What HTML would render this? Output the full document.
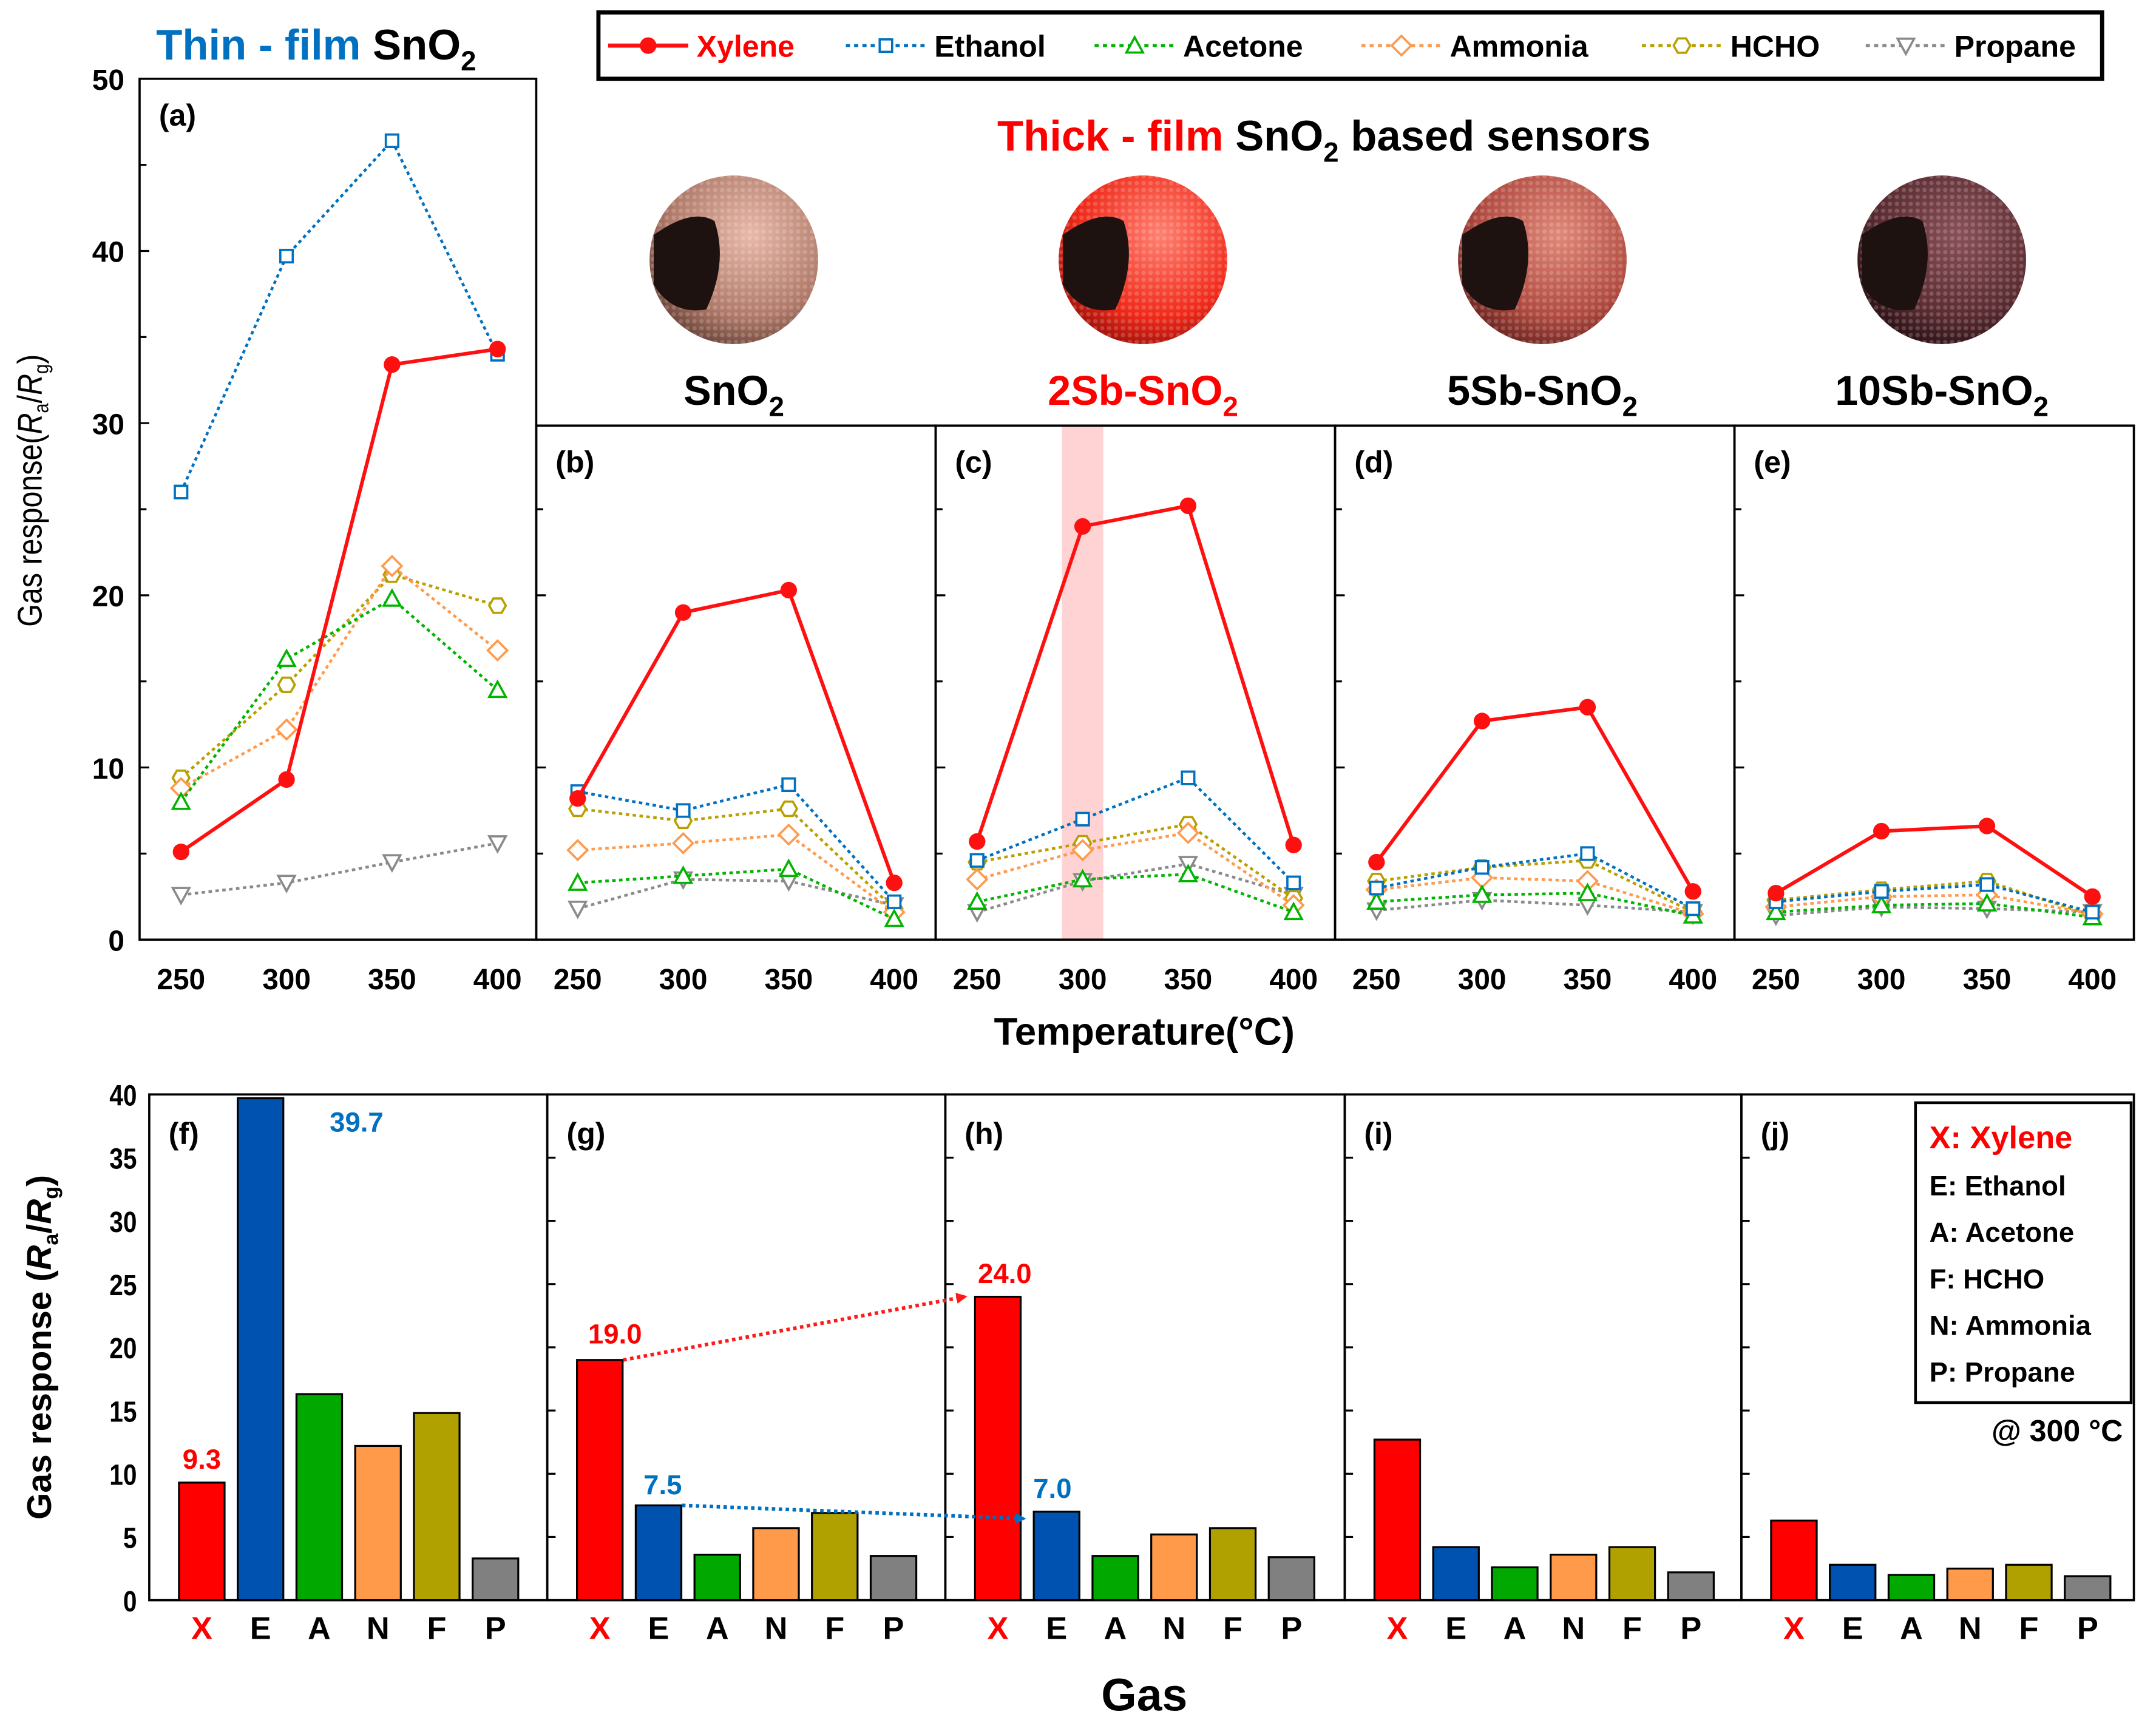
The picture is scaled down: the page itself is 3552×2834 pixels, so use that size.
<!DOCTYPE html>
<html><head><meta charset="utf-8">
<style>
html,body{margin:0;padding:0;background:#fff;}
svg{display:block;font-family:"Liberation Sans",Arial,sans-serif;}
</style></head>
<body>
<svg id="fig" width="3552" height="2834" viewBox="0 0 1560 1244.7" preserveAspectRatio="none" xmlns="http://www.w3.org/2000/svg">
<defs>
<radialGradient id="g1" cx="0.6" cy="0.35" r="0.7"><stop offset="0" stop-color="#e8b8a8"/><stop offset="0.7" stop-color="#b07a6a"/><stop offset="1" stop-color="#6a4438"/></radialGradient>
<radialGradient id="g2" cx="0.6" cy="0.35" r="0.7"><stop offset="0" stop-color="#ff8070"/><stop offset="0.7" stop-color="#f02a1a"/><stop offset="1" stop-color="#a01008"/></radialGradient>
<radialGradient id="g3" cx="0.6" cy="0.35" r="0.7"><stop offset="0" stop-color="#e08878"/><stop offset="0.7" stop-color="#b04a40"/><stop offset="1" stop-color="#6a2420"/></radialGradient>
<radialGradient id="g4" cx="0.6" cy="0.35" r="0.7"><stop offset="0" stop-color="#8a5058"/><stop offset="0.7" stop-color="#5a2c32"/><stop offset="1" stop-color="#2a1014"/></radialGradient>
<pattern id="dots" width="5" height="5" patternUnits="userSpaceOnUse"><circle cx="2.5" cy="2.5" r="1.6" fill="#fff" opacity="0.18"/></pattern>
<marker id="arR" markerWidth="8" markerHeight="8" refX="6" refY="4" orient="auto" markerUnits="userSpaceOnUse"><path d="M0,0 L8,4 L0,8 Z" fill="#ff1a1a"/></marker>
<marker id="arB" markerWidth="8" markerHeight="8" refX="6" refY="4" orient="auto" markerUnits="userSpaceOnUse"><path d="M0,0 L8,4 L0,8 Z" fill="#0070c0"/></marker>
</defs>
<g id="root"></g>
</svg>
<script>
// ---- data ----
const temps = [250, 300, 350, 400];
const gasNames = ["Xylene", "Ethanol", "Acetone", "Ammonia", "HCHO", "Propane"];
const panelLabels = ["(a)", "(b)", "(c)", "(d)", "(e)"];
const xyleneA = [5.1, 9.3, 33.4, 34.3];
const ethanolA = [26, 39.7, 46.4, 34];
const acetoneA = [8, 16.3, 19.8, 14.5];
const ammoniaA = [8.8, 12.2, 21.7, 16.8];
const hchoA = [9.4, 14.8, 21.2, 19.4];
const propaneA = [2.6, 3.3, 4.5, 5.6];
const xyleneB = [8.2, 19, 20.3, 3.3];
const ethanolB = [8.6, 7.5, 9, 2.2];
const acetoneB = [3.3, 3.7, 4.1, 1.2];
const ammoniaB = [5.2, 5.6, 6.1, 1.6];
const hchoB = [7.6, 6.9, 7.6, 1.8];
const propaneB = [1.8, 3.5, 3.4, 2];
const xyleneC = [5.7, 24, 25.2, 5.5];
const ethanolC = [4.6, 7, 9.4, 3.3];
const acetoneC = [2.2, 3.5, 3.8, 1.6];
const ammoniaC = [3.5, 5.2, 6.2, 2];
const hchoC = [4.5, 5.6, 6.7, 2.4];
const propaneC = [1.6, 3.4, 4.4, 2.6];
const xyleneD = [4.5, 12.7, 13.5, 2.8];
const ethanolD = [3, 4.2, 5, 1.8];
const acetoneD = [2.2, 2.6, 2.7, 1.4];
const ammoniaD = [2.9, 3.6, 3.4, 1.5];
const hchoD = [3.4, 4.2, 4.6, 1.6];
const propaneD = [1.7, 2.3, 2, 1.6];
const xyleneE = [2.7, 6.3, 6.6, 2.5];
const ethanolE = [2.2, 2.8, 3.2, 1.6];
const acetoneE = [1.6, 2, 2.1, 1.3];
const ammoniaE = [1.9, 2.5, 2.6, 1.5];
const hchoE = [2.3, 2.9, 3.4, 1.4];
const propaneE = [1.4, 1.9, 1.8, 1.6];
const yTicksTop = [0, 10, 20, 30, 40, 50];
const gasCats = ["X", "E", "A", "N", "F", "P"];
const barF = [9.3, 39.7, 16.3, 12.2, 14.8, 3.3];
const barG = [19, 7.5, 3.6, 5.7, 6.9, 3.5];
const barH = [24, 7, 3.5, 5.2, 5.7, 3.4];
const barI = [12.7, 4.2, 2.6, 3.6, 4.2, 2.2];
const barJ = [6.3, 2.8, 2, 2.5, 2.8, 1.9];
const barPanelLabels = ["(f)", "(g)", "(h)", "(i)", "(j)"];
const yTicksBottom = [0, 5, 10, 15, 20, 25, 30, 35, 40];

const NS = "http://www.w3.org/2000/svg";
const root = document.getElementById("root");
function el(tag, attrs, parent, txt) {
  const e = document.createElementNS(NS, tag);
  for (const k in attrs) e.setAttribute(k, attrs[k]);
  if (txt !== undefined) e.textContent = txt;
  (parent || root).appendChild(e);
  return e;
}
const lineColors = ["#ff1010", "#0070c0", "#00b400", "#ff9a4d", "#b8a000", "#8a8a8a"];
const barColors = ["#ff0000", "#0052b0", "#00a800", "#ff9a4a", "#b0a000", "#808080"];

// ---- top axes ----
const topY0 = 680, topPer = 12.46;
function yTop(v) { return topY0 - v * topPer; }
const panelX = [101, 388, 677, 966, 1255, 1544];
function xT(p, t) { return panelX[p] + 30 + (t - 250) / 150 * 229; }

function marker(g, i, x, y) {
  const c = lineColors[i];
  let m;
  if (i === 0) m = el("circle", { cx: x, cy: y, r: 6, fill: "#ff1010" }, g);
  else if (i === 1) m = el("rect", { x: x - 4.5, y: y - 4.5, width: 9, height: 9, fill: "#fff", stroke: c, "stroke-width": 1.6 }, g);
  else if (i === 2) m = el("polygon", { points: `${x},${y - 6} ${x + 6},${y + 5} ${x - 6},${y + 5}`, fill: "#fff", stroke: c, "stroke-width": 1.6 }, g);
  else if (i === 3) m = el("polygon", { points: `${x},${y - 7} ${x + 7},${y} ${x},${y + 7} ${x - 7},${y}`, fill: "#fff", stroke: c, "stroke-width": 1.6 }, g);
  else if (i === 4) { let p = []; for (let k = 0; k < 6; k++) { const a = Math.PI / 3 * k; p.push((x + 6 * Math.cos(a)) + "," + (y + 6 * Math.sin(a))); } m = el("polygon", { points: p.join(" "), fill: "#fff", stroke: c, "stroke-width": 1.6 }, g); }
  else m = el("polygon", { points: `${x - 6},${y - 5} ${x + 6},${y - 5} ${x},${y + 6}`, fill: "#fff", stroke: c, "stroke-width": 1.6 }, g);
  
  
}

const panelSeries = [
  [xyleneA, ethanolA, acetoneA, ammoniaA, hchoA, propaneA],
  [xyleneB, ethanolB, acetoneB, ammoniaB, hchoB, propaneB],
  [xyleneC, ethanolC, acetoneC, ammoniaC, hchoC, propaneC],
  [xyleneD, ethanolD, acetoneD, ammoniaD, hchoD, propaneD],
  [xyleneE, ethanolE, acetoneE, ammoniaE, hchoE, propaneE]
];

// highlight in c
const hl = el("rect", { x: xT(2, 300) - 15, y: 308, width: 30, height: 372, fill: "#ffc8c8", opacity: 0.8 });



for (let p = 0; p < 5; p++) {
  const g = el("g", {});
  
  
  const top = p === 0 ? 57 : 308;
  const fr = el("rect", { x: panelX[p], y: top, width: panelX[p + 1] - panelX[p], height: topY0 - top, fill: "none", stroke: "#000", "stroke-width": 1.6 }, g);
  
  
  // y ticks
  for (let v = 5; v < 50; v += 5) {
    const y = yTop(v);
    if (y < top + 2) continue;
    el("line", { x1: panelX[p], x2: panelX[p] + (v % 10 === 0 ? 7 : 5), y1: y, y2: y, stroke: "#000", "stroke-width": 1.4 }, g);
  }
  // x labels
  temps.forEach(t => {
    const tl = el("text", { x: xT(p, t), y: 716, "font-size": 21, "font-weight": "bold", "text-anchor": "middle" }, g, String(t));
    
    
  });
  const pl = el("text", { x: panelX[p] + 14, y: top + 34, "font-size": 22, "font-weight": "bold" }, g, panelLabels[p]);
  
  
  // series (draw in reverse so xylene is on top)
  for (let i = 5; i >= 0; i--) {
    const s = panelSeries[p][i];
    const pts = s.map((v, k) => xT(p, temps[k]) + "," + yTop(v)).join(" ");
    const ln = el("polyline", { points: pts, fill: "none", stroke: lineColors[i], "stroke-width": i === 0 ? 2.6 : 2, "stroke-dasharray": i === 0 ? "none" : "2.5,2.5" }, g);
    
    
    s.forEach((v, k) => marker(g, i, xT(p, temps[k]), yTop(v)));
  }
}
yTicksTop.forEach(v => {
  const t = el("text", { x: 90, y: yTop(v) + 8, "font-size": 21, "font-weight": "bold", "text-anchor": "end" }, root, String(v));
  
  
});
const yt1 = el("text", { transform: "translate(30,355) rotate(-90) scale(0.85,1)", "font-size": 25, "text-anchor": "middle" });
yt1.innerHTML = 'Gas response(<tspan font-style="italic">R</tspan><tspan font-size="15" dy="5">a</tspan><tspan dy="-5">/</tspan><tspan font-style="italic">R</tspan><tspan font-size="15" dy="5">g</tspan><tspan dy="-5">)</tspan>';


const xt = el("text", { x: 828, y: 756, "font-size": 28, "font-weight": "bold", "text-anchor": "middle" }, root, "Temperature(°C)");



// titles
const t1 = el("text", { x: 113, y: 43, "font-size": 31, "font-weight": "bold" });
t1.innerHTML = '<tspan fill="#0070c0">Thin - film</tspan> SnO<tspan font-size="20" dy="8">2</tspan>';


const t2 = el("text", { x: 958, y: 109, "font-size": 31, "font-weight": "bold", "text-anchor": "middle" });
t2.innerHTML = '<tspan fill="#ff0000">Thick - film</tspan> SnO<tspan font-size="20" dy="8">2</tspan><tspan dy="-8"> based sensors</tspan>';



// legend
const lg = el("g", {});


el("rect", { x: 433, y: 9, width: 1088, height: 48, fill: "#fff", stroke: "#000", "stroke-width": 3 }, lg);
const legX = [440, 612, 792, 985, 1188, 1350];
gasNames.forEach((n, i) => {
  const x = legX[i];
  el("line", { x1: x, x2: x + 58, y1: 33, y2: 33, stroke: lineColors[i], "stroke-width": i === 0 ? 3 : 2.2, "stroke-dasharray": i === 0 ? "none" : "3,3" }, lg);
  marker(lg, i, x + 29, 33);
  const lt = el("text", { x: x + 64, y: 41, "font-size": 22, "font-weight": "bold", fill: i === 0 ? "#ff0000" : "#000" }, lg, n);
  
  
});

// spheres
const sph = [[531, "g1", "SnO", "#000", "-"], [827, "g2", "2Sb-SnO", "#ff0000", "2sb"], [1116, "g3", "5Sb-SnO", "#000", "5sb"], [1405, "g4", "10Sb-SnO", "#000", "10sb"]];
sph.forEach(s => {
  const g = el("g", {});
  
  
  el("circle", { cx: s[0], cy: 188, r: 61, fill: "url(#" + s[1] + ")" }, g);
  el("circle", { cx: s[0], cy: 188, r: 61, fill: "url(#dots)" }, g);
  el("path", { d: `M${s[0] - 58},${170} Q${s[0] - 30},${150} ${s[0] - 14},${160} Q${s[0] - 4},${190} ${s[0] - 20},${224} Q${s[0] - 45},${228} ${s[0] - 58},${206} Z`, fill: "#1e1210" }, g);
  const lab = el("text", { x: s[0], y: 293, "font-size": 30, "font-weight": "bold", "text-anchor": "middle", fill: s[3] }, g);
  lab.innerHTML = s[2] + '<tspan font-size="20" dy="8">2</tspan>';
});

// ---- bottom bar charts ----
const bY0 = 1158, bPer = (1158 - 792) / 40;
function yB(v) { return bY0 - v * bPer; }
const bX = [108, 396, 684, 973, 1260, 1544];
function xB(p, i) { return bX[p] + 38 + i * 42.5; }
const barSets = [barF, barG, barH, barI, barJ];
for (let p = 0; p < 5; p++) {
  const g = el("g", {});
  
  
  el("rect", { x: bX[p], y: 792, width: bX[p + 1] - bX[p], height: bY0 - 792, fill: "none", stroke: "#000", "stroke-width": 1.6 }, g);
  if (p > 0) yTicksBottom.forEach(v => { if (v > 0 && v < 40) el("line", { x1: bX[p], x2: bX[p] + 6, y1: yB(v), y2: yB(v), stroke: "#000", "stroke-width": 1.4 }, g); });
  barSets[p].forEach((v, i) => {
    const b = el("rect", { x: xB(p, i) - 16.5, y: yB(v), width: 33, height: v * bPer, fill: barColors[i], stroke: "#000", "stroke-width": 1.4 }, g);
    
    
  });
  gasCats.forEach((c, i) => {
    const cl = el("text", { x: xB(p, i), y: 1186, "font-size": 23, "font-weight": "bold", "text-anchor": "middle", fill: i === 0 ? "#ff0000" : "#000" }, g, c);
    
    
  });
  const pl = el("text", { x: bX[p] + 14, y: 828, "font-size": 22, "font-weight": "bold" }, g, barPanelLabels[p]);
  
  
}
yTicksBottom.forEach(v => {
  const t = el("text", { x: 99, y: yB(v) + 8, "font-size": 21, "font-weight": "bold", "text-anchor": "end", transform: `translate(${99 * 0.15},0) scale(0.85,1)` }, root, String(v));
  
  
});
const yt2 = el("text", { transform: "translate(37,975) rotate(-90)", "font-size": 25, "font-weight": "bold", "text-anchor": "middle" });
yt2.innerHTML = 'Gas response (<tspan font-style="italic">R</tspan><tspan font-size="15" dy="5">a</tspan><tspan dy="-5">/</tspan><tspan font-style="italic">R</tspan><tspan font-size="15" dy="5">g</tspan><tspan dy="-5">)</tspan>';


const gx = el("text", { x: 828, y: 1238, "font-size": 33, "font-weight": "bold", "text-anchor": "middle" }, root, "Gas");



// value annotations
function ann(txt, x, y, col, name) {
  const a = el("text", { x: x, y: y, "font-size": 20, "font-weight": "bold", fill: col, "text-anchor": "middle" }, root, txt);
  
  
}
ann(barF[0].toFixed(1), xB(0, 0), yB(barF[0]) - 10, "#ff0000", "value-f-x");
ann(barF[1].toFixed(1), 258, 819, "#0070c0", "value-f-e");
ann(barG[0].toFixed(1), 445, yB(barG[0]) - 12, "#ff0000", "value-g-x");
ann(barG[1].toFixed(1), xB(1, 1) + 3, yB(barG[1]) - 8, "#0070c0", "value-g-e");
ann(barH[0].toFixed(1), xB(2, 0) + 5, yB(barH[0]) - 10, "#ff0000", "value-h-x");
ann(barH[1].toFixed(1), xB(2, 1) - 3, yB(barH[1]) - 10, "#0070c0", "value-h-e");
const a1 = el("line", { x1: xB(1, 0) + 17, y1: yB(barG[0]), x2: xB(2, 0) - 24, y2: yB(barH[0]), stroke: "#ff1a1a", "stroke-width": 2.6, "stroke-dasharray": "2.5,2.5", "marker-end": "url(#arR)" });


const a2 = el("line", { x1: xB(1, 1) + 17, y1: yB(barG[1]), x2: xB(2, 1) - 24, y2: yB(barH[1]) + 5, stroke: "#0070c0", "stroke-width": 2.6, "stroke-dasharray": "2.5,2.5", "marker-end": "url(#arB)" });



// bottom legend
const bl = el("g", {});


el("rect", { x: 1386, y: 798, width: 156, height: 217, fill: "#fff", stroke: "#000", "stroke-width": 2 }, bl);
const keyTxt = ["X: Xylene", "E: Ethanol", "A: Acetone", "F: HCHO", "N: Ammonia", "P: Propane"];
keyTxt.forEach((k, i) => {
  const t = el("text", { x: 1396, y: i === 0 ? 831 : 865 + (i - 1) * 33.7, "font-size": i === 0 ? 23 : 20, "font-weight": "bold", fill: i === 0 ? "#ff0000" : "#000" }, bl, k);
  
  
});
const at = el("text", { x: 1536, y: 1043, "font-size": 22, "font-weight": "bold", "text-anchor": "end" }, root, "@ 300 °C");


</script>
</body></html>
